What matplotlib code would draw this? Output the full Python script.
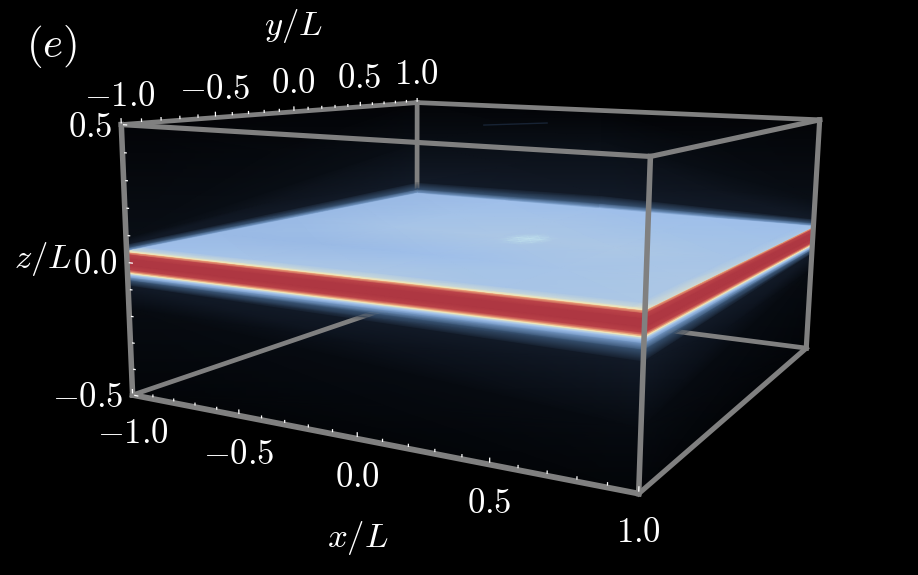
import numpy as np
import matplotlib
matplotlib.use('Agg')
import matplotlib.pyplot as plt
from matplotlib.colors import LinearSegmentedColormap

plt.rcParams['mathtext.fontset'] = 'cm'

# field colormap, level -> colour
cmap_levels = [0.0, 0.10, 0.20, 0.30, 0.40, 0.50, 0.58, 0.66, 0.74, 0.85, 1.0]
cmap_colors = ['#000000', '#070b11', '#121a27', '#36506f', '#6f93bf', '#9fbfea',
               '#c0d4de', '#f4e8b8', '#e89a74', '#bb4349', '#ae3742']
# opacity of the same levels where the glow lies over the box edges
overlay_alpha = [0, 0, 0, 0.75, 1, 1, 1, 1, 1, 1, 1]

# slice through the layer on the two front faces
band_levels = [0.66, 0.74, 0.85, 1.0, 1.0, 0.85, 0.74, 0.66, 0.58, 0.50, 0.40, 0.30, 0.20, 0.10, 0.05]
band_z_left = [0.041, 0.036, 0.028, 0.012, -0.012, -0.028, -0.036, -0.041, -0.045, -0.049, -0.057, -0.068, -0.088, -0.17, -0.50]
band_z_mid = [0.041, 0.036, 0.028, 0.012, -0.012, -0.028, -0.036, -0.041, -0.045, -0.050, -0.061, -0.080, -0.115, -0.30, -0.50]
band_z_back = [0.041, 0.036, 0.028, 0.012, -0.012, -0.028, -0.036, -0.041, -0.045, -0.049, -0.055, -0.064, -0.080, -0.15, -0.50]

# glow above the layer on the two back faces
glow_levels = [0.50, 0.40, 0.30, 0.20, 0.12, 0.04]
glow_z_corner = [0.041, 0.047, 0.055, 0.068, 0.09, 0.50]
glow_z_far_left = [0.041, 0.050, 0.065, 0.10, 0.30, 0.50]
glow_z_far_mid = [0.041, 0.052, 0.068, 0.105, 0.36, 0.50]
glow_z_far_right = [0.041, 0.048, 0.058, 0.075, 0.16, 0.50]

# top of the layer
surface_x = [-1.0, -0.5, 0.0, 0.5, 0.95, 1.0]
surface_y = [-1.0, -0.97, -0.90, -0.5, 0.0, 0.5, 1.0]
surface_levels = [[0.66, 0.66, 0.66, 0.66, 0.66, 0.66],
                  [0.59, 0.59, 0.59, 0.59, 0.59, 0.62],
                  [0.50, 0.52, 0.53, 0.52, 0.53, 0.60],
                  [0.49, 0.49, 0.50, 0.52, 0.53, 0.60],
                  [0.49, 0.52, 0.53, 0.53, 0.52, 0.56],
                  [0.49, 0.51, 0.52, 0.51, 0.51, 0.54],
                  [0.49, 0.50, 0.50, 0.50, 0.50, 0.52]]

# small disturbance in the middle of the layer
bump_x = [0.02, 0.07, 0.12, 0.17, 0.22]
bump_y = [-0.14, -0.06, 0.02, 0.10, 0.18]
bump_values = [[0.0, 0.0, 0.0, 0.0, 0.0],
               [0.0, 0.20, 0.35, 0.20, 0.0],
               [0.0, 0.45, 0.80, 0.45, 0.0],
               [0.0, 0.10, 0.25, 0.10, 0.0],
               [0.0, 0.0, 0.0, 0.0, 0.0]]

x_ticks = [-1.0, -0.5, 0.0, 0.5, 1.0]
y_ticks = [-1.0, -0.5, 0.0, 0.5, 1.0]
z_ticks = [-0.5, 0.0, 0.5]
x_labels = ['$-1.0$', '$-0.5$', '$0.0$', '$0.5$', '$1.0$']
y_labels = ['$-1.0$', '$-0.5$', '$0.0$', '$0.5$', '$1.0$']
z_labels = ['$-0.5$', '$0.0$', '$0.5$']

# box corners on screen, used to calibrate the camera
corners_3d = [(-1, -1, -0.5), (1, -1, -0.5), (1, -1, 0.5), (-1, -1, 0.5),
              (-1, 1, 0.5), (1, 1, 0.5), (1, 1, -0.5), (-1, 1, -0.5)]
corners_px = [(132, 397), (638, 492), (651, 155), (122, 125),
              (416, 103), (820, 120), (806, 350), (418, 296)]
# the layer rides a little higher at the near right corner
corner_lift = 0.017


def fit_camera(pts, px):
    rows = []
    for (x, y, z), (u, v) in zip(pts, px):
        rows.append([x, y, z, 1, 0, 0, 0, 0, -u*x, -u*y, -u*z, -u])
        rows.append([0, 0, 0, 0, x, y, z, 1, -v*x, -v*y, -v*z, -v])
    _, _, vt = np.linalg.svd(np.array(rows, dtype=float))
    return vt[-1].reshape(3, 4)


P = fit_camera(corners_3d, corners_px)


def project(x, y, z):
    x, y, z = np.broadcast_arrays(np.asarray(x, float), np.asarray(y, float), np.asarray(z, float))
    w = P[2, 0]*x + P[2, 1]*y + P[2, 2]*z + P[2, 3]
    u = (P[0, 0]*x + P[0, 1]*y + P[0, 2]*z + P[0, 3]) / w
    v = (P[1, 0]*x + P[1, 1]*y + P[1, 2]*z + P[1, 3]) / w
    return u, v


def lift(x, y):
    return corner_lift * (np.asarray(x, float) + 1) / 2 * (1 - np.asarray(y, float)) / 2


field_cmap = LinearSegmentedColormap.from_list('field', list(zip(cmap_levels, cmap_colors)), N=512)
rgba = [matplotlib.colors.to_rgba(c, a) for c, a in zip(cmap_colors, overlay_alpha)]
overlay_cmap = LinearSegmentedColormap.from_list('overlay', list(zip(cmap_levels, rgba)), N=512)
bump_cmap = LinearSegmentedColormap.from_list('bump', [(0.75, 0.88, 0.93, 0), (0.75, 0.88, 0.93, 0.9)])

fig = plt.figure(figsize=(9.18, 5.75), dpi=100, facecolor='black')
ax = fig.add_axes([0, 0, 1, 1])
ax.set_xlim(0, 918)
ax.set_ylim(575, 0)
ax.axis('off')


def mesh(x, y, z, c, cmap=field_cmap, zorder=1):
    u, v = project(x, y, z)
    ax.pcolormesh(u, v, np.array(c), shading='gouraud', cmap=cmap, vmin=0, vmax=1, zorder=zorder, rasterized=True)


def edge(a, b, lw, zorder):
    u, v = project([a[0], b[0]], [a[1], b[1]], [a[2], b[2]])
    ax.plot(u, v, color='#808080', lw=lw, zorder=zorder, solid_capstyle='projecting')


# glow on back faces
gl = np.array(glow_levels)
n = len(gl)
xs = np.array([-1.0, 0.0, 1.0])
zz = np.array([glow_z_far_left, glow_z_far_mid, glow_z_far_right]).T
back_x, back_y, back_c = np.tile(xs, (n, 1)), np.ones((n, 3)), np.tile(gl[:, None], (1, 3))
ys = np.array([-1.0, 1.0])
zz2 = np.array([glow_z_corner, glow_z_far_left]).T
left_x, left_y, left_c = -np.ones((n, 2)), np.tile(ys, (n, 1)), np.tile(gl[:, None], (1, 2))
mesh(back_x, back_y, zz, back_c)
mesh(left_x, left_y, zz2, left_c)

# front and right faces
bl = np.array(band_levels)
m = len(bl)
xs = np.array([-1.0, 1.0])
front_x, front_y = np.tile(xs, (m, 1)), -np.ones((m, 2))
front_c = np.tile(bl[:, None], (1, 2))
zf = np.array(band_z_left)[:, None] * [1, 0] + np.array(band_z_mid)[:, None] * [0, 1]
zf = zf + np.where(bl[:, None] >= 0.2, lift(front_x, front_y), 0)
right_x, right_y = np.ones((m, 2)), np.tile(ys, (m, 1))
zr = np.array(band_z_mid)[:, None] * [1, 0] + np.array(band_z_back)[:, None] * [0, 1]
zr = zr + np.where(bl[:, None] >= 0.2, lift(right_x, right_y), 0)
mesh(front_x, front_y, zf, front_c)
mesh(right_x, right_y, zr, front_c)

# edges behind the layer, seen through the dark part of the volume
edge((-1, 1, 0.5), (-1, 1, -0.5), 3.4, 1.5)
edge((-1, -1, -0.5), (-1, 1, -0.5), 3.4, 1.5)
edge((-1, 1, -0.5), (1, 1, -0.5), 3.4, 1.5)

# bright glow goes back over those edges
mesh(back_x, back_y, zz, back_c, cmap=overlay_cmap, zorder=2)
mesh(left_x, left_y, zz2, left_c, cmap=overlay_cmap, zorder=2)
mesh(front_x, front_y, zf, front_c, cmap=overlay_cmap, zorder=2)
mesh(right_x, right_y, zr, front_c, cmap=overlay_cmap, zorder=2)

# top of the layer
sx, sy = np.meshgrid(surface_x, surface_y)
mesh(sx, sy, 0.041 + lift(sx, sy), surface_levels, zorder=3)
bx, by = np.meshgrid(bump_x, bump_y)
mesh(bx, by, 0.041 + lift(bx, by), bump_values, cmap=bump_cmap, zorder=3.5)

# faint streak high up on the back wall
su, sv = project([-0.62, -0.28], [1, 1], [0.405, 0.43])
ax.plot(su, sv, color='#1c2a3e', lw=1.0, alpha=0.8, zorder=1.2)

# front edges
edge((-1, 1, 0.5), (1, 1, 0.5), 3.4, 5)
edge((-1, -1, 0.5), (-1, 1, 0.5), 3.4, 5)
edge((-1, -1, 0.5), (1, -1, 0.5), 3.7, 5)
edge((1, -1, 0.5), (1, 1, 0.5), 3.7, 5)
edge((1, 1, 0.5), (1, 1, -0.5), 3.7, 5)
edge((1, -1, -0.5), (1, 1, -0.5), 3.7, 5)
edge((-1, -1, 0.5), (-1, -1, -0.5), 4.0, 5)
edge((1, -1, 0.5), (1, -1, -0.5), 4.0, 5)
edge((-1, -1, -0.5), (1, -1, -0.5), 4.2, 5)


def ticks(vals, a, b, length):
    for t in vals:
        major = abs(t*2 - round(t*2)) < 1e-6
        p0 = project(*a(t))
        p1 = project(*b(t, length*(1.35 if major else 1)))
        ax.plot([p0[0], p1[0]], [p0[1], p1[1]], color='white', lw=0.9, zorder=6, solid_capstyle='butt')


minor_x = np.round(np.arange(-10, 11)*0.1, 1)
minor_z = np.round(np.arange(-5, 6)*0.1, 1)
ticks(minor_x, lambda t: (t, -1, -0.5 + 0.006), lambda t, l: (t, -1, -0.5 + l), 0.017)
ticks(minor_x, lambda t: (-1, t, 0.5 + 0.004), lambda t, l: (-1, t, 0.5 + l), 0.017)
ticks(minor_z, lambda t: (-1 + 0.008, -1, t), lambda t, l: (-1 + l, -1, t), 0.021)

# tick labels and axis titles
fs = 25
for t, s in zip(x_ticks, x_labels):
    u, v = project(t, -1, -0.5)
    ax.text(u + 0, v + 38, s, color='white', fontsize=fs, ha='center', va='center', zorder=7)
for t, s in zip(y_ticks, y_labels):
    u, v = project(-1, t, 0.5)
    ax.text(u - 1, v - 29, s, color='white', fontsize=fs, ha='center', va='center', zorder=7)
for t, s in zip(z_ticks, z_labels):
    u, v = project(-1, -1, t)
    ax.text(u - 9, v + 2, s, color='white', fontsize=fs, ha='right', va='center', zorder=7)

ax.text(358, 538, '$x/L$', color='white', fontsize=fs, ha='center', va='center')
ax.text(293, 26, '$y/L$', color='white', fontsize=fs, ha='center', va='center')
ax.text(43, 259, '$z/L$', color='white', fontsize=fs, ha='center', va='center')
ax.text(52, 46, '$(e)$', color='white', fontsize=31, ha='center', va='center')

fig.savefig('out.png', dpi=100, facecolor='black')
